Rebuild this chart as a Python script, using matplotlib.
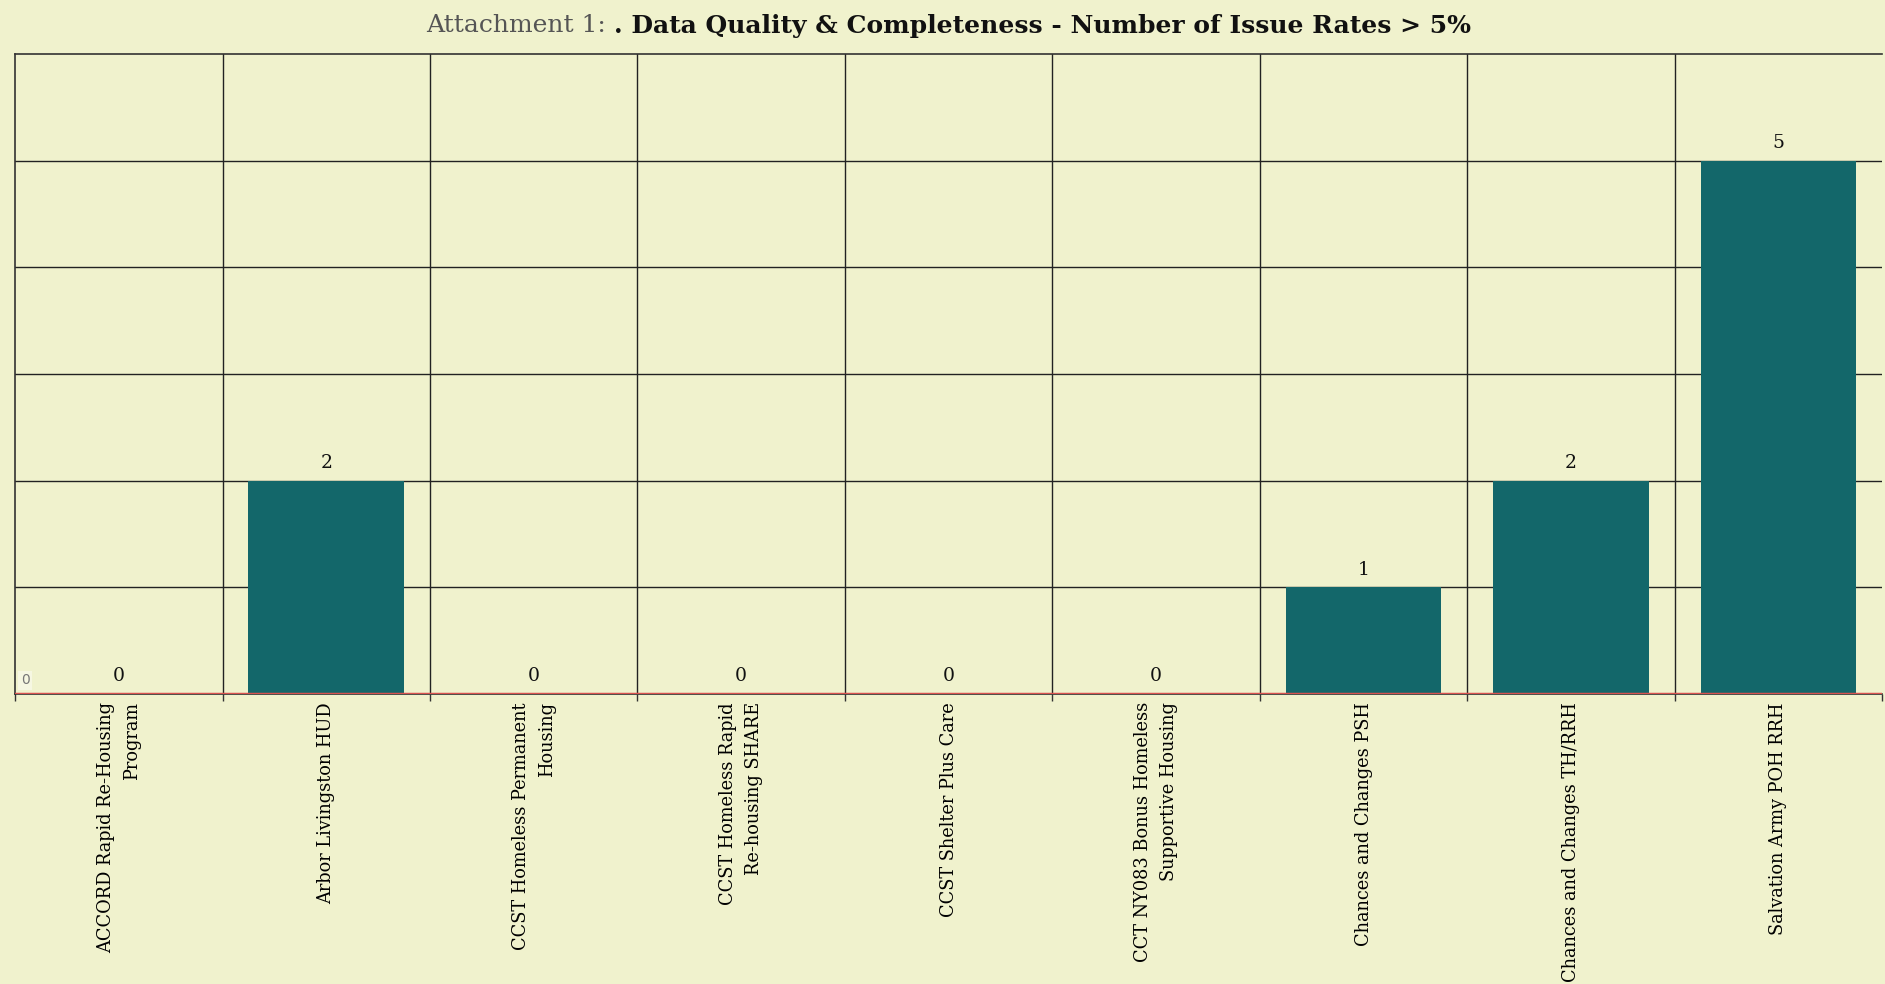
import matplotlib
matplotlib.use('Agg')
import matplotlib.pyplot as plt

# data
programs = [
    "ACCORD Rapid Re-Housing\nProgram",
    "Arbor Livingston HUD",
    "CCST Homeless Permanent\nHousing",
    "CCST Homeless Rapid\nRe-housing SHARE",
    "CCST Shelter Plus Care",
    "CCT NY083 Bonus Homeless\nSupportive Housing",
    "Chances and Changes PSH",
    "Chances and Changes TH/RRH",
    "Salvation Army POH RRH",
]
issues = [0, 2, 0, 0, 0, 0, 1, 2, 5]
title_prefix = "Attachment 1: "
title_main = ". Data Quality & Completeness - Number of Issue Rates > 5%"

bg = '#f0f2cd'
bar_col = '#13676a'
plt.rcParams['font.family'] = ['DejaVu Serif']

fig = plt.figure(figsize=(18.85, 9.84), dpi=100, facecolor=bg)
ax = fig.add_axes([0.008, 0.295, 0.9905, 0.650])
ax.set_facecolor(bg)

x = list(range(len(programs)))
ax.bar(x, issues, width=0.75, color=bar_col, zorder=2)

for xi, v in zip(x, issues):
    ax.annotate(str(v), (xi, v), xytext=(0, 6), textcoords='offset points',
                ha='center', va='bottom', fontsize=13.5, color='#111111')

ax.set_xlim(-0.5, len(programs) - 0.5)
ax.set_ylim(0, 6)

# grid
for yv in range(1, 6):
    ax.axhline(yv, color='#222222', lw=1.0, zorder=1)
for b in range(1, len(programs)):
    ax.axvline(b - 0.5, color='#222222', lw=1.0, zorder=1)
ax.axhline(0, color='#d9534f', lw=2.5, zorder=3)

ax.set_yticks([])
ax.set_xticks([b - 0.5 for b in range(len(programs) + 1)], minor=False)
ax.set_xticklabels([])
ax.tick_params(axis='x', length=5, color='#333333', width=1)
ax.set_xticks(x, minor=True)
ax.set_xticklabels(programs, minor=True, rotation=90, fontsize=12.8,
                   va='top', ha='center', multialignment='right',
                   linespacing=1.55)
ax.tick_params(axis='x', which='minor', length=0, pad=6)

for s in ['top', 'left', 'bottom']:
    ax.spines[s].set_color('#333333')
    ax.spines[s].set_linewidth(1.2)
ax.spines['right'].set_visible(False)

ax.text(0.003, 0.01, '0', transform=ax.transAxes, fontsize=10, color='#777777',
        family='DejaVu Sans', ha='left', va='bottom',
        bbox=dict(facecolor='#f6f7e2', edgecolor='none', pad=2))

# two-part title
fig.canvas.draw()
r = fig.canvas.get_renderer()
t1 = fig.text(0, 0.974, title_prefix, fontsize=18, color='#555555', va='center')
t2 = fig.text(0, 0.974, title_main, fontsize=18, fontweight='bold', color='#111111', va='center')
w1 = t1.get_window_extent(r).width / fig.bbox.width
w2 = t2.get_window_extent(r).width / fig.bbox.width
start = 0.503 - (w1 + w2) / 2
t1.set_x(start)
t2.set_x(start + w1)

fig.savefig('out.png', dpi=100, facecolor=bg)
